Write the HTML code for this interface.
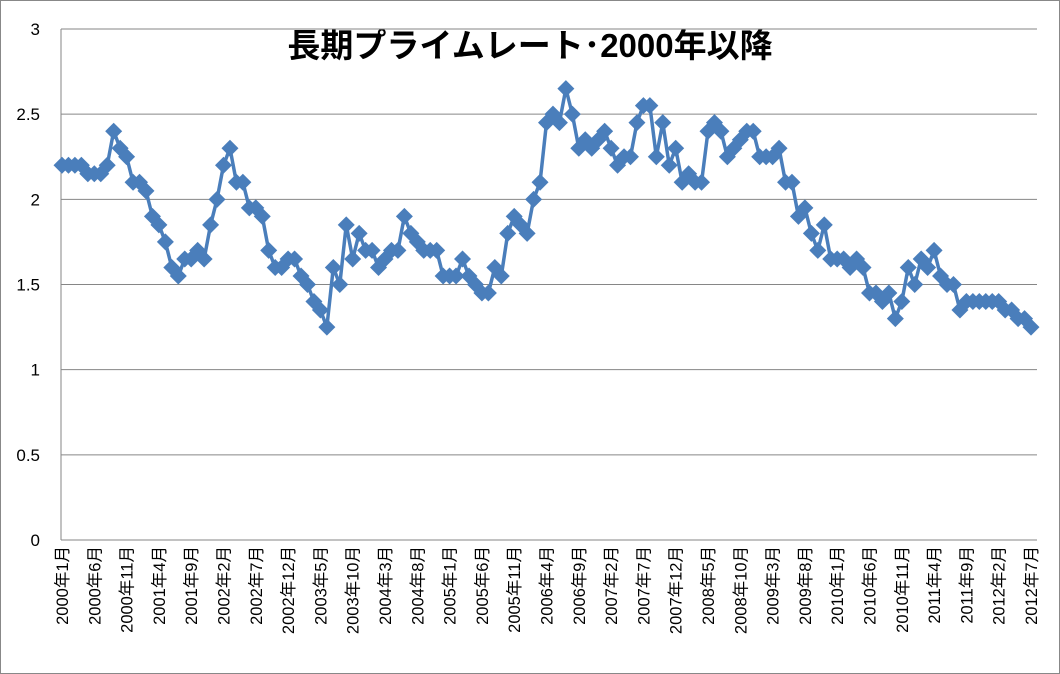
<!DOCTYPE html>
<html><head><meta charset="utf-8"><style>
body{margin:0;background:#fff;}
svg{display:block;font-family:"Liberation Sans","Noto Sans CJK JP",sans-serif;}
</style></head><body>
<svg id="chart" width="1060" height="674" viewBox="0 0 1060 674">
<rect x="0.5" y="0.5" width="1059" height="673" fill="#fff" stroke="#888"/>
<text x="530" y="57" text-anchor="middle" font-size="33" font-weight="bold" fill="#000">長期プライムレート･2000年以降</text>
<g id="grid"></g><g id="yticks"></g><g id="xticks"></g><g id="series"></g>
</svg>
<script>
const yTicks=[0,0.5,1,1.5,2,2.5,3];
const startYear=2000, startMonth=1;
const rates=[2.2,2.2,2.2,2.2,2.15,2.15,2.15,2.2,2.4,2.3,2.25,2.1,2.1,2.05,1.9,1.85,1.75,1.6,1.55,1.65,
1.65,1.7,1.65,1.85,2.0,2.2,2.3,2.1,2.1,1.95,1.95,1.9,1.7,1.6,1.6,1.65,1.65,1.55,1.5,1.4,
1.35,1.25,1.6,1.5,1.85,1.65,1.8,1.7,1.7,1.6,1.65,1.7,1.7,1.9,1.8,1.75,1.7,1.7,1.7,1.55,
1.55,1.55,1.65,1.55,1.5,1.45,1.45,1.6,1.55,1.8,1.9,1.85,1.8,2.0,2.1,2.45,2.5,2.45,2.65,2.5,
2.3,2.35,2.3,2.35,2.4,2.3,2.2,2.25,2.25,2.45,2.55,2.55,2.25,2.45,2.2,2.3,2.1,2.15,2.1,2.1,
2.4,2.45,2.4,2.25,2.3,2.35,2.4,2.4,2.25,2.25,2.25,2.3,2.1,2.1,1.9,1.95,1.8,1.7,1.85,1.65,
1.65,1.65,1.6,1.65,1.6,1.45,1.45,1.4,1.45,1.3,1.4,1.6,1.5,1.65,1.6,1.7,1.55,1.5,1.5,1.35,
1.4,1.4,1.4,1.4,1.4,1.4,1.35,1.35,1.3,1.3,1.25];
const NS='http://www.w3.org/2000/svg';
const L=61,R=1037,T=29,B=540,X0=62,X1=1031;
const yS=v=>B-(v/3)*(B-T);
const xS=i=>X0+i*(X1-X0)/(rates.length-1);
function mk(t,a,p){const e=document.createElementNS(NS,t);for(const k in a)e.setAttribute(k,a[k]);p.appendChild(e);return e;}
const grid=document.getElementById('grid'),yt=document.getElementById('yticks'),xt=document.getElementById('xticks'),se=document.getElementById('series');
yTicks.forEach(v=>{
 const y=yS(v);
 if(v>0){const g=mk('line',{x1:L,x2:R,y1:y,y2:y,stroke:'#868686','stroke-width':1},grid);
 
 }
 const t=mk('text',{x:40,y:y+6,'text-anchor':'end','font-size':17,fill:'#000'},yt);t.textContent=String(v);
 
 
});
const ax=mk('line',{x1:L,x2:L,y1:T,y2:B,stroke:'#868686'},grid);


const bx=mk('line',{x1:L,x2:R,y1:B,y2:B,stroke:'#868686'},grid);


rates.forEach((v,i)=>{
 if(i%5!==0)return;
 const m0=startMonth-1+i,yr=startYear+Math.floor(m0/12),mo=m0%12+1;
 const x=xS(i)+6;
 const t=mk('text',{x:x,y:546,'font-size':16.5,fill:'#000','text-anchor':'end',transform:`rotate(-90 ${x} 546)`},xt);
 t.textContent=yr+'年'+mo+'月';
 
 
});
const pl=mk('polyline',{points:rates.map((v,i)=>xS(i)+','+yS(v)).join(' '),fill:'none',stroke:'#4a7ebb','stroke-width':3.5,'stroke-linejoin':'round'},se);


rates.forEach((v,i)=>{
 const x=xS(i),y=yS(v),s=8.5;
 const p=mk('polygon',{points:`${x},${y-s} ${x+s},${y} ${x},${y+s} ${x-s},${y}`,fill:'#4a7ebb'},se);
 
 
});
</script>
</body></html>
